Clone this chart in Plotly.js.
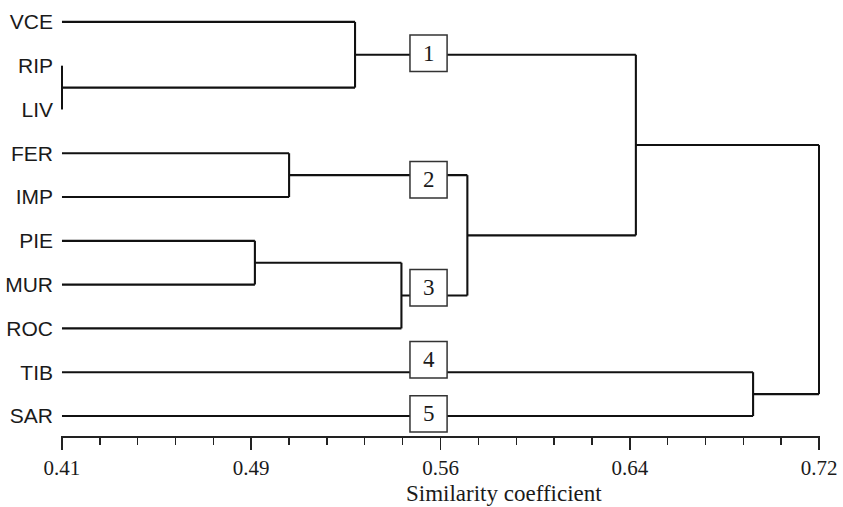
<!DOCTYPE html>
<html><head><meta charset="utf-8">
<script src="https://cdn.plot.ly/plotly-3.0.1.min.js"></script>
<style>html,body{margin:0;padding:0;background:#fff;} #chart{width:843px;height:507px;}</style>
</head><body><div id="chart"></div>
<script>
// Leaves (top to bottom)
const leaves = ['VCE','RIP','LIV','FER','IMP','PIE','MUR','ROC','TIB','SAR'];
// Merges: child ids >= leaves.length refer to earlier merges (like a linkage table)
const mergeA   = [1, 5, 3, 0, 11, 12, 13, 8, 16];
const mergeB   = [2, 6, 4, 10, 7, 14, 15, 9, 17];
const mergeSim = [0.41, 0.489, 0.503, 0.530, 0.549, 0.576, 0.645, 0.693, 0.72];
// Cluster box labels
const clusterLabels = ['1','2','3','4','5'];
// Axis ticks
const tickVals   = [0.41, 0.4875, 0.565, 0.6425, 0.72];
const tickLabels = ['0.41','0.49','0.56','0.64','0.72'];
const axisTitle = 'Similarity coefficient';

// ---- build dendrogram segments ----
const n = leaves.length;
const nodeX = [], nodeY = [];
for (let i = 0; i < n; i++) { nodeX.push(tickVals[0]); nodeY.push(i); }
const xs = [], ys = [];
for (let m = 0; m < mergeA.length; m++) {
  const a = mergeA[m], b = mergeB[m], s = mergeSim[m];
  xs.push(nodeX[a], s, null); ys.push(nodeY[a], nodeY[a], null);
  xs.push(nodeX[b], s, null); ys.push(nodeY[b], nodeY[b], null);
  xs.push(s, s, null); ys.push(nodeY[a], nodeY[b], null);
  nodeX.push(s); nodeY.push((nodeY[a] + nodeY[b]) / 2);
}

// minor ticks: 4 between each pair of major ticks
const minorVals = [];
for (let i = 0; i < tickVals.length - 1; i++) {
  const step = (tickVals[i+1] - tickVals[i]) / 5;
  for (let k = 1; k < 5; k++) minorVals.push(tickVals[i] + k * step);
}

// ---- cluster boxes (positions) ----
const boxX0 = 0.5525, boxX1 = 0.5677, boxHalf = 0.416;
const boxCenters = [0.718, 3.604, 6.07, 7.714, 8.951];
const serif = 'Liberation Serif, Times New Roman, serif';
const shapes = [], annotations = [];
clusterLabels.forEach((lab, i) => {
  shapes.push({type:'rect', xref:'x', yref:'y', x0:boxX0, x1:boxX1,
    y0:boxCenters[i]-boxHalf, y1:boxCenters[i]+boxHalf,
    line:{color:'#333', width:1.5}, fillcolor:'#fff', layer:'above'});
  annotations.push({x:(boxX0+boxX1)/2, y:boxCenters[i], xref:'x', yref:'y',
    text:lab, showarrow:false, xanchor:'center', yanchor:'middle',
    font:{family:serif, size:23, color:'#1a1a1a'}});
});
annotations.push({x:0.584, y:-71/436, xref:'paper', yref:'paper', text:axisTitle,
  showarrow:false, xanchor:'center', yanchor:'bottom', borderpad:0,
  font:{family:serif, size:23, color:'#1a1a1a'}});

const trace = {x:xs, y:ys, type:'scatter', mode:'lines',
  line:{color:'#111', width:2.1}, hoverinfo:'skip', showlegend:false};

const layout = {
  width:843, height:507,
  margin:{l:61, r:23, t:0, b:71},
  paper_bgcolor:'#fff', plot_bgcolor:'#fff',
  showlegend:false,
  xaxis:{range:[0.4096, 0.7204], showgrid:false, zeroline:false,
    showline:true, linecolor:'#222', linewidth:1.7,
    tickmode:'array', tickvals:tickVals, ticktext:tickLabels,
    ticks:'outside', ticklen:12, tickwidth:1.6, tickcolor:'#222',
    minor:{tickmode:'array', tickvals:minorVals, ticks:'outside', ticklen:7, tickwidth:1.4, tickcolor:'#222', showgrid:false},
    tickfont:{family:serif, size:21, color:'#1a1a1a'}},
  yaxis:{range:[9.457, -0.5], showgrid:false, zeroline:false, showline:false,
    tickmode:'array', tickvals:leaves.map((_, i) => i), ticktext:leaves, ticks:'',
    ticklabelstandoff:7,
    tickfont:{family:'Liberation Sans, Arial, sans-serif', size:21, color:'#1a1a1a'}},
  shapes:shapes, annotations:annotations
};
Plotly.newPlot('chart', [trace], layout, {displayModeBar:false, staticPlot:true});
</script></body></html>
